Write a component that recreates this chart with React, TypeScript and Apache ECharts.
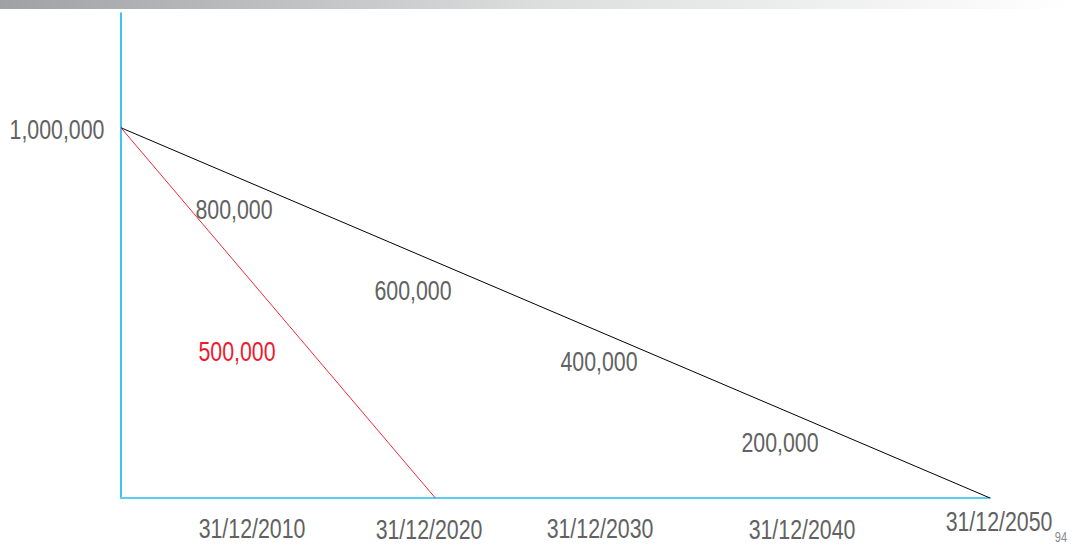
import React, { useEffect, useRef } from "react";
import * as echarts from "echarts";

// Straight-line depreciation of a 1,000,000 asset over two useful lives
const startYear = 2003;
const startValue = 1000000;
const longLifeEnd = 2050; // black line: written off by 31/12/2050
const shortLifeEnd = 2020; // red line: written off by 31/12/2020
const dateTicks = [2010, 2020, 2030, 2040, 2050];
const valueTicks = [1000000];
const longLifeNotes = ["800,000", "600,000", "400,000", "200,000"];
const shortLifeNote = "500,000";
const pageNumber = "94";

// Text layout (label centres, in pixels)
const dateLabelPos = [
  [252, 529],
  [429, 530],
  [600, 529],
  [802, 530],
  [999, 522],
];
const valueLabelPos = [[57, 130]];
const longNotePos = [
  [234, 210],
  [413, 291],
  [599, 362],
  [780, 443],
];
const shortNotePos = [237, 352];

const FONT = "'Liberation Sans', Arial, sans-serif";
const GREY = "#626262";
const SIZE = 27;
const NARROW = 0.79;

const fmt = (v: number) => v.toLocaleString("en-US");

const narrowText = (text: string, x: number, y: number, fill: string, size = SIZE) => ({
  type: "text",
  x,
  y,
  scaleX: NARROW,
  silent: true,
  style: {
    text,
    fill,
    font: `${size}px ${FONT}`,
    align: "center",
    verticalAlign: "middle",
  },
});

export default function App() {
  const ref = useRef<HTMLDivElement>(null);

  useEffect(() => {
    if (!ref.current) return;
    const chart = echarts.init(ref.current, undefined, { renderer: "svg" });

    chart.setOption({
      animation: false,
      backgroundColor: "#ffffff",
      grid: {
        left: 121,
        right: 82,
        top: 13,
        bottom: 47,
        containLabel: false,
        outerBoundsMode: "none",
      },
      xAxis: {
        type: "value",
        min: startYear,
        max: longLifeEnd,
        axisLine: { lineStyle: { color: "#5ccdf2", width: 2 } },
        axisTick: { show: false },
        splitLine: { show: false },
        axisLabel: { show: false },
      },
      yAxis: {
        type: "value",
        min: 0,
        max: 1310000,
        axisLine: { show: true, lineStyle: { color: "#00b0f0", width: 1.5 } },
        axisTick: { show: false },
        splitLine: { show: false },
        axisLabel: { show: false },
      },
      series: [
        {
          type: "line",
          data: [
            [startYear, startValue],
            [longLifeEnd, 0],
          ],
          symbol: "none",
          lineStyle: { color: "#000000", width: 1 },
        },
        {
          type: "line",
          data: [
            [startYear, startValue],
            [shortLifeEnd, 0],
          ],
          symbol: "none",
          lineStyle: { color: "#f0283a", width: 1 },
        },
      ],
      graphic: [
        {
          type: "rect",
          shape: { x: 0, y: 0, width: 1072, height: 9 },
          style: {
            fill: new echarts.graphic.LinearGradient(0, 0, 1, 0, [
              { offset: 0, color: "#9fa1a4" },
              { offset: 0.5, color: "#dcdddd" },
              { offset: 1, color: "#ffffff" },
            ]),
          },
          silent: true,
        },
        ...dateTicks.map((y, i) =>
          narrowText("31/12/" + y, dateLabelPos[i][0], dateLabelPos[i][1], GREY)
        ),
        ...valueTicks.map((v, i) =>
          narrowText(fmt(v), valueLabelPos[i][0], valueLabelPos[i][1], GREY)
        ),
        ...longLifeNotes.map((t, i) =>
          narrowText(t, longNotePos[i][0], longNotePos[i][1], GREY)
        ),
        narrowText(shortLifeNote, shortNotePos[0], shortNotePos[1], "#ec1b30"),
        narrowText(pageNumber, 1061, 538, "#8a8a8a", 14),
      ],
    });

    return () => chart.dispose();
  }, []);

  return (
    <div
      ref={ref}
      style={{ position: "fixed", left: 0, top: 0, width: 1072, height: 545 }}
    />
  );
}
